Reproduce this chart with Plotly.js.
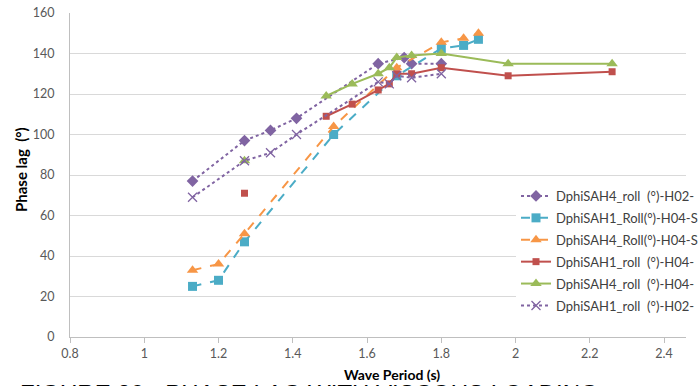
<!DOCTYPE html>
<html>
<head>
<meta charset="utf-8">
<script src="https://cdn.plot.ly/plotly-3.0.1.min.js"></script>
<style>
  html, body { margin: 0; padding: 0; background: #ffffff; overflow: hidden; }
  #chart { width: 699px; height: 386px; }
</style>
</head>
<body>
<div id="chart"></div>
<script>
// Wave period (s) and phase lag (deg) for each damping configuration.
// null entries are missing readings, which break the connecting line.
const sah4RollH02_x = [1.13, 1.27, 1.34, 1.41, 1.63, 1.70, 1.72, 1.80];
const sah4RollH02_y = [77, 97, 102, 108, 135, 138, 135, 135];

const sah1RollH04S_x = [1.13, 1.20, 1.27, 1.51, 1.68, 1.80, 1.86, 1.90];
const sah1RollH04S_y = [25, 28, 47, 100, 129, 142.5, 144, 147];

const sah4RollH04S_x = [1.13, 1.20, 1.27, 1.51, 1.68, 1.80, 1.86, 1.90];
const sah4RollH04S_y = [33, 36, 51, 104, 133, 145.5, 147.5, 150];

const sah1RollH04_x = [1.27, null, 1.49, 1.56, 1.63, 1.66, 1.68, 1.72, 1.80, 1.98, 2.26];
const sah1RollH04_y = [71, null, 109, 115, 122, 125, 130, 130, 133, 129, 131];

const sah4RollH04_x = [1.27, null, 1.49, 1.56, 1.63, 1.66, 1.68, 1.72, 1.80, 1.98, 2.26];
const sah4RollH04_y = [87, null, 119, 125, 130, 133, 138, 139, 140, 135, 135];

const sah1RollH02_x = [1.13, 1.27, 1.34, 1.41, 1.63, 1.66, 1.68, 1.72, 1.80];
const sah1RollH02_y = [69, 87, 91, 100, 126, 125, 129, 128, 130];

const NB = '\u00a0';
const seriesNames = [
  'DphiSAH4_roll' + NB + ' (°)-H02-',
  'DphiSAH1_Roll(°)-H04-S',
  'DphiSAH4_Roll(°)-H04-S',
  'DphiSAH1_roll' + NB + ' (°)-H04-',
  'DphiSAH4_roll' + NB + ' (°)-H04-',
  'DphiSAH1_roll' + NB + ' (°)-H02-'
];

const xTicks = [0.8, 1, 1.2, 1.4, 1.6, 1.8, 2, 2.2, 2.4];
const yTicks = [0, 20, 40, 60, 80, 100, 120, 140, 160];

const purple = '#8064A2', cyan = '#4BACC6', orange = '#F79646',
      red = '#C0504D', green = '#9BBB59';

function series(i, xs, ys, color, dash, symbol, size) {
  return {
    type: 'scatter', mode: 'lines+markers',
    name: seriesNames[i], legendgroup: 'g' + i,
    x: xs, y: ys, connectgaps: false,
    line: { color: color, width: 2, dash: dash },
    marker: { color: color, symbol: symbol, size: size, line: { width: 0 } },
    cliponaxis: false
  };
}

const traces = [
  series(0, sah4RollH02_x, sah4RollH02_y, purple, 'dot', 'diamond', 9),
  series(1, sah1RollH04S_x, sah1RollH04S_y, cyan, 'dash', 'square', 9),
  series(2, sah4RollH04S_x, sah4RollH04S_y, orange, 'dash', 'triangle-up', 10),
  series(3, sah1RollH04_x, sah1RollH04_y, red, 'solid', 'square', 7),
  series(4, sah4RollH04_x, sah4RollH04_y, green, 'solid', 'triangle-up', 10),
  series(5, sah1RollH02_x, sah1RollH02_y, purple, 'dot', 'x-thin-open', 9)
];
traces[5].marker.line = { color: purple, width: 1.3 };

const baseFamily = 'Lato, "Open Sans", sans-serif';
const tickFont = { family: baseFamily, size: 12.5, color: '#595959' };
const toPx = (px) => (px - 70) / 616;
const toPy = (py) => (337 - py) / 324;

const layout = {
  width: 699, height: 386,
  margin: { l: 70, r: 13, t: 13, b: 49, autoexpand: false },
  paper_bgcolor: '#ffffff', plot_bgcolor: '#ffffff',
  showlegend: true,
  xaxis: {
    range: [0.8, 2.459], tickvals: xTicks, ticktext: xTicks.map(String),
    showgrid: false, zeroline: false,
    showline: true, linecolor: '#BFBFBF', linewidth: 1,
    ticks: 'outside', ticklen: 5, tickcolor: '#BFBFBF',
    tickfont: tickFont
  },
  yaxis: {
    range: [0, 160], tickvals: yTicks,
    showgrid: true, gridcolor: '#D9D9D9', gridwidth: 1,
    zeroline: false, showline: true, linecolor: '#BFBFBF', linewidth: 1,
    ticks: '', ticklabelstandoff: 12,
    tickfont: tickFont
  },
  legend: {
    x: toPx(516), xanchor: 'left', y: toPy(181), yanchor: 'top',
    bgcolor: '#ffffff', borderwidth: 0,
    traceorder: 'grouped', tracegroupgap: 2,
    font: { family: baseFamily, size: 13, color: '#404040' }
  },
  annotations: [
    {
      xref: 'paper', yref: 'paper', x: toPx(392), y: toPy(374),
      xanchor: 'center', yanchor: 'middle', showarrow: false,
      text: '<b>Wave Period (s)</b>',
      font: { family: baseFamily, size: 14, color: '#000000' }
    },
    {
      xref: 'paper', yref: 'paper', x: toPx(21), y: toPy(170),
      xanchor: 'center', yanchor: 'middle', showarrow: false, textangle: -90,
      text: '<b>Phase lag' + NB + ' (°)</b>',
      font: { family: baseFamily, size: 15, color: '#000000' }
    },
    {
      xref: 'paper', yref: 'paper', x: toPx(18), y: toPy(378),
      xanchor: 'left', yanchor: 'top', showarrow: false,
      text: 'FIGURE 20 - PHASE LAG WITH VISCOUS LOADING',
      font: { family: '"Liberation Sans", Arial, sans-serif', size: 24, color: '#000000' }
    }
  ]
};

Plotly.newPlot('chart', traces, layout, { staticPlot: true, displayModeBar: false });
</script>
</body>
</html>
